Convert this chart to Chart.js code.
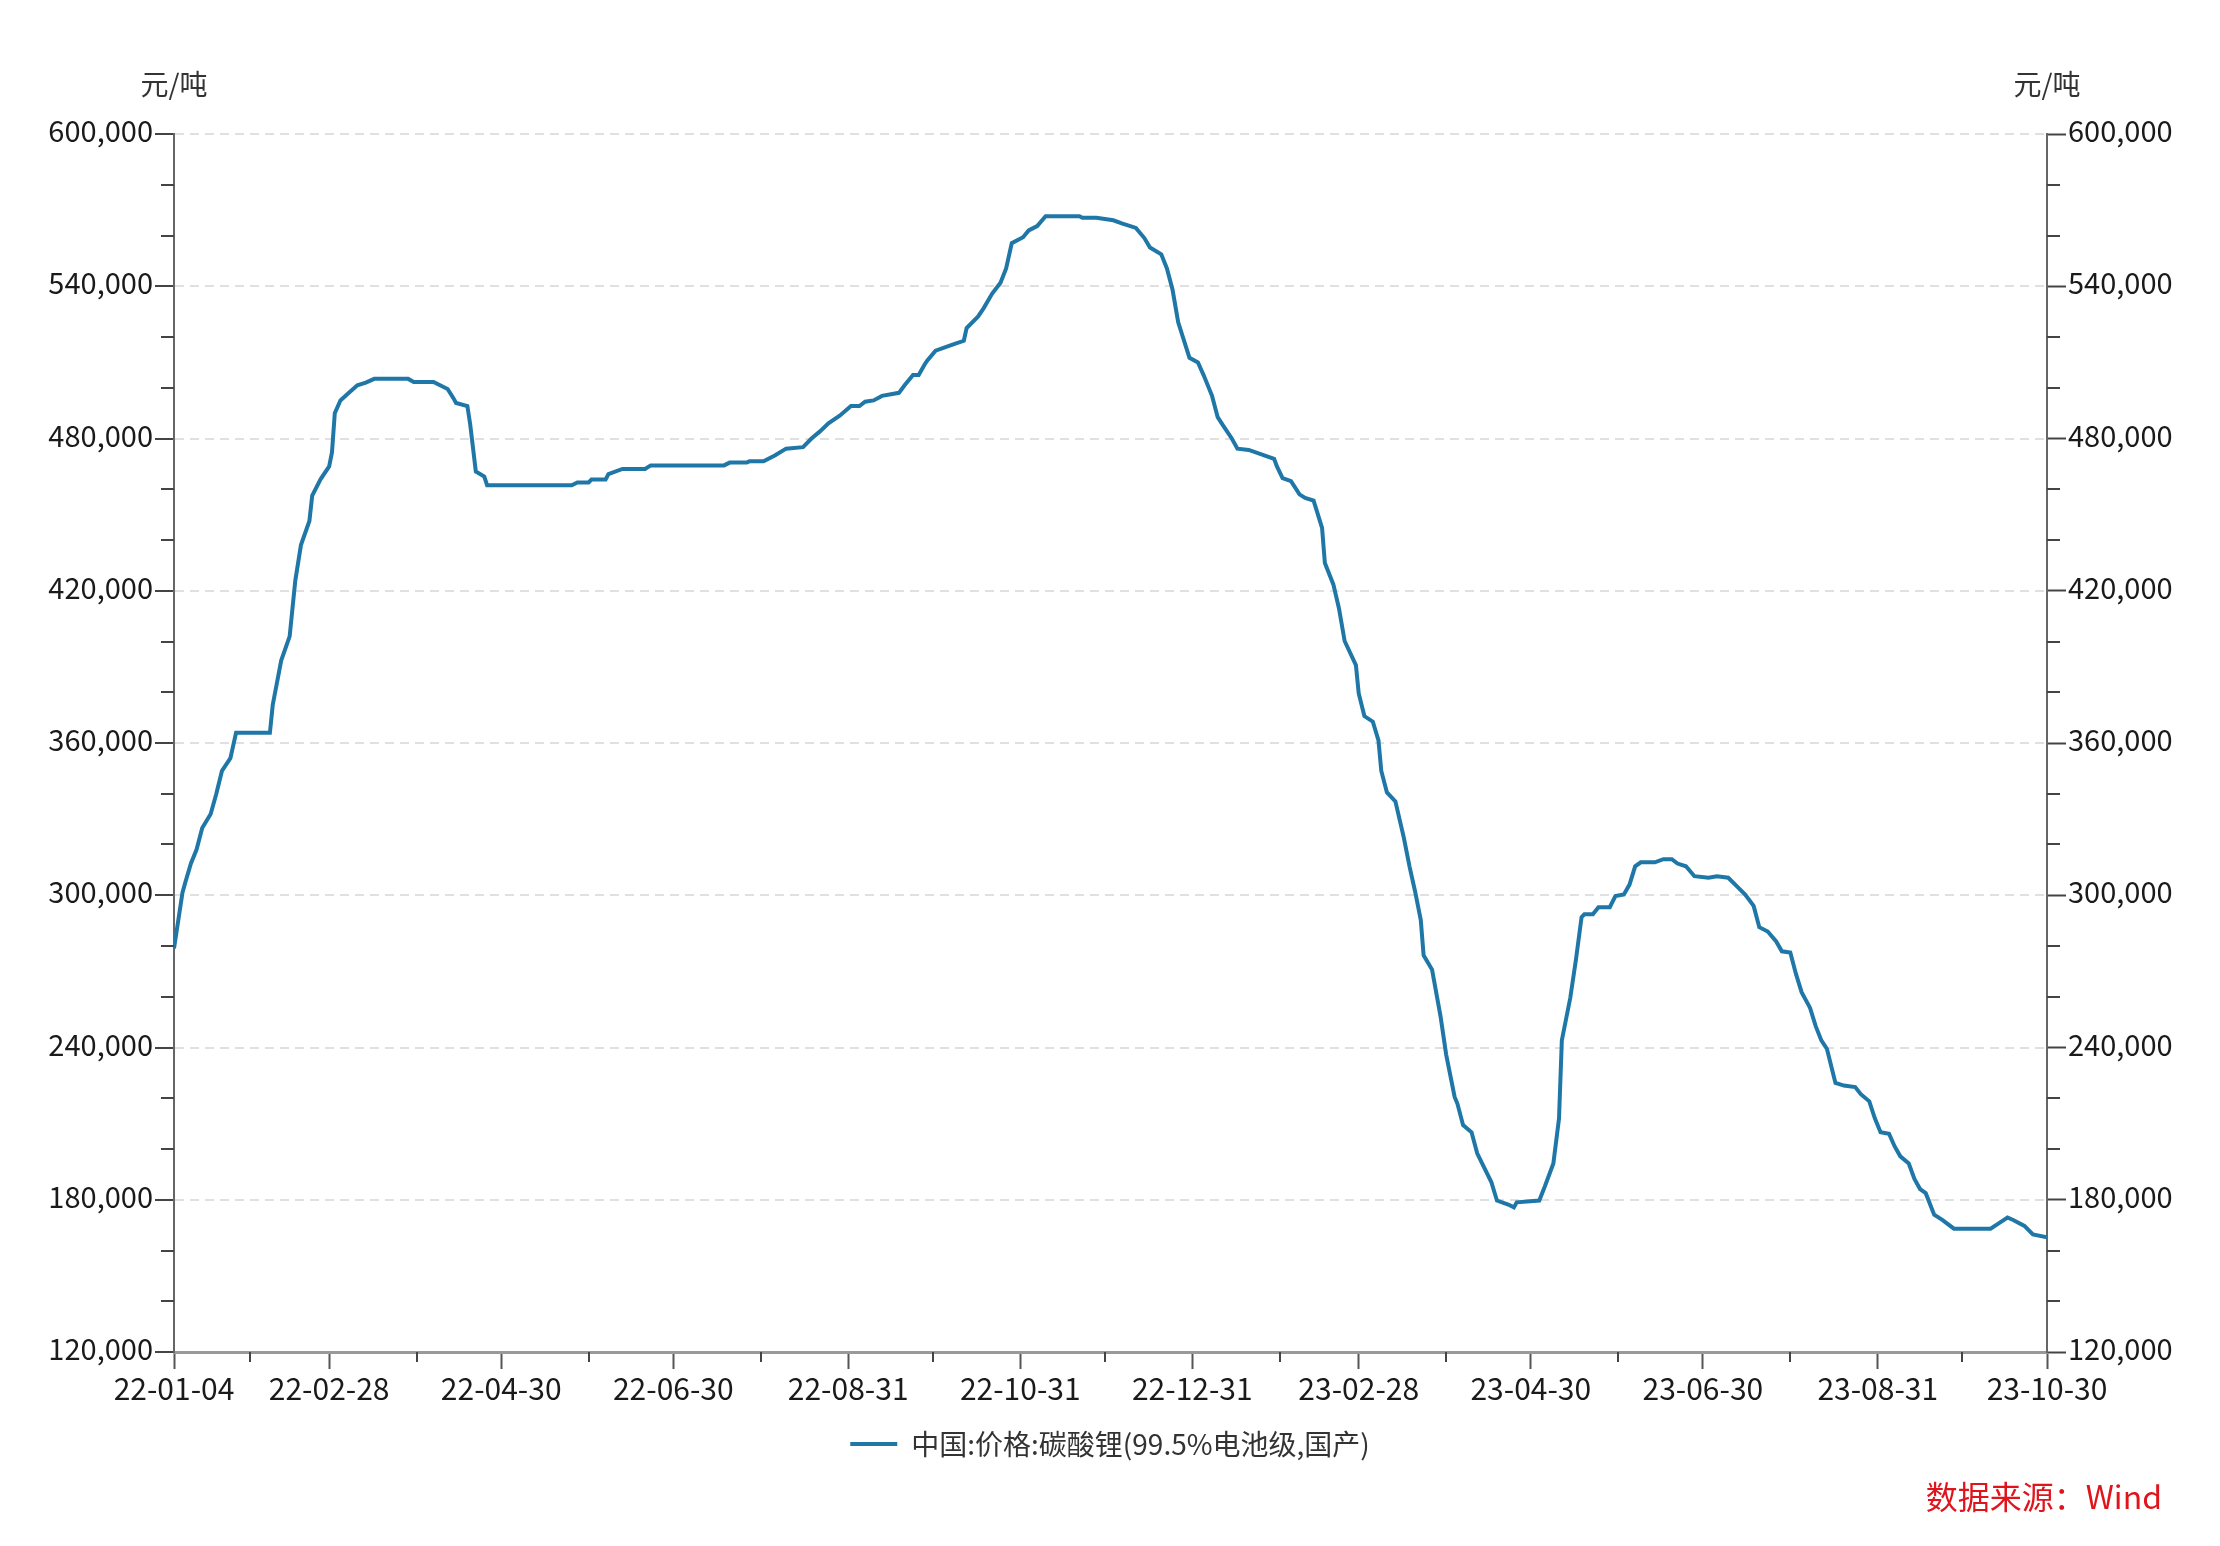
<!DOCTYPE html>
<html>
<head>
<meta charset="utf-8">
<script src="https://cdn.jsdelivr.net/npm/chart.js@4.4.1/dist/chart.umd.min.js"></script>
<style>
  html, body { margin: 0; padding: 0; background: #ffffff; }
  #wrap { position: relative; width: 2220px; height: 1546px; }
  #source { position: absolute; right: 58px; top: 1476px; font-family: "Noto Sans CJK SC", sans-serif; font-size: 32px; line-height: 1.2; color: #e0141c; }
</style>
</head>
<body>
<div id="wrap">
  <canvas id="c"></canvas>
  <div id="source">数据来源：Wind</div>
</div>
<script>
const seriesName = '中国:价格:碳酸锂(99.5%电池级,国产)';
const unitLabel = '元/吨';

const dates = [
'2022-01-04','2022-01-07','2022-01-08','2022-01-10','2022-01-12','2022-01-14','2022-01-17','2022-01-19','2022-01-21','2022-01-24','2022-01-26',
'2022-02-07','2022-02-08','2022-02-11','2022-02-14','2022-02-16','2022-02-18','2022-02-21','2022-02-22','2022-02-25','2022-02-28',
'2022-03-01','2022-03-02','2022-03-04','2022-03-07','2022-03-10','2022-03-13','2022-03-16','2022-03-28','2022-03-30',
'2022-04-06','2022-04-11','2022-04-13','2022-04-14','2022-04-18','2022-04-19','2022-04-21','2022-04-24','2022-04-25',
'2022-05-25','2022-05-27','2022-05-31',
'2022-06-01','2022-06-06','2022-06-07','2022-06-12','2022-06-20','2022-06-22',
'2022-07-18','2022-07-20','2022-07-26','2022-07-27',
'2022-08-01','2022-08-05','2022-08-09','2022-08-15','2022-08-18','2022-08-21','2022-08-24','2022-08-28',
'2022-09-01','2022-09-04','2022-09-06','2022-09-09','2022-09-12','2022-09-18','2022-09-20','2022-09-23','2022-09-25','2022-09-27','2022-09-28',
'2022-10-01','2022-10-08','2022-10-11','2022-10-12','2022-10-16','2022-10-18','2022-10-21','2022-10-24','2022-10-26','2022-10-28',
'2022-11-01','2022-11-03','2022-11-06','2022-11-09','2022-11-21','2022-11-22','2022-11-27','2022-11-30',
'2022-12-03','2022-12-06','2022-12-11','2022-12-14','2022-12-16','2022-12-20','2022-12-22','2022-12-24','2022-12-26','2022-12-30',
'2023-01-02','2023-01-04','2023-01-07','2023-01-09','2023-01-11','2023-01-14','2023-01-16','2023-01-20','2023-01-29','2023-01-30',
'2023-02-01','2023-02-04','2023-02-07','2023-02-09','2023-02-12','2023-02-15','2023-02-16','2023-02-19','2023-02-21','2023-02-23','2023-02-27','2023-02-28',
'2023-03-02','2023-03-05','2023-03-07','2023-03-08','2023-03-10','2023-03-13','2023-03-16','2023-03-18','2023-03-20','2023-03-22','2023-03-23','2023-03-26','2023-03-29','2023-03-31',
'2023-04-03','2023-04-04','2023-04-06','2023-04-09','2023-04-11','2023-04-13','2023-04-16','2023-04-18','2023-04-22','2023-04-24','2023-04-25',
'2023-05-03','2023-05-05','2023-05-08','2023-05-10','2023-05-11','2023-05-14','2023-05-16','2023-05-18','2023-05-19','2023-05-22','2023-05-24','2023-05-28','2023-05-30',
'2023-06-02','2023-06-04','2023-06-06','2023-06-08','2023-06-13','2023-06-16','2023-06-19','2023-06-21','2023-06-24','2023-06-27',
'2023-07-02','2023-07-05','2023-07-09','2023-07-12','2023-07-15','2023-07-18','2023-07-20','2023-07-23','2023-07-26','2023-07-28','2023-07-31',
'2023-08-02','2023-08-04','2023-08-07','2023-08-09','2023-08-11','2023-08-13','2023-08-16','2023-08-19','2023-08-23','2023-08-25','2023-08-28','2023-08-30',
'2023-09-01','2023-09-04','2023-09-06','2023-09-08','2023-09-11','2023-09-13','2023-09-15','2023-09-17','2023-09-20','2023-09-23','2023-09-27',
'2023-10-10','2023-10-13','2023-10-16','2023-10-18','2023-10-22','2023-10-25','2023-10-30'
];

const prices = [
279000,301000,305000,312500,318000,326500,332000,340000,349000,354000,364000,
364000,375000,392500,402000,424000,438000,447500,457500,464000,469000,
474500,490000,495000,498000,501000,502000,503500,503500,502300,
502300,499500,496000,494000,492800,485600,467000,465000,461600,
461600,462700,462700,
463800,463800,466000,468000,468000,469400,
469400,470500,470500,471000,
471000,473300,476000,476600,480000,482800,486000,489000,
492800,492800,494500,495000,496800,498000,501000,505000,505000,509000,510700,
514600,517400,518500,523500,528000,531300,537000,541400,547000,557000,
559300,562000,563700,567600,567600,567000,567000,566500,
566000,564800,563000,559000,555300,552600,547000,538600,525800,511800,
510000,505000,496800,488400,485000,480000,476000,475500,472000,469000,
464400,463200,458000,456600,455500,444800,430900,422500,413000,400200,390700,379500,
370600,368400,361000,349000,340500,337000,322600,311400,301400,290200,276300,270700,252300,237200,
220500,217800,209400,206600,198300,193700,187000,179700,178100,177000,179000,
179700,185300,194300,212000,242800,259600,274600,291400,292500,292500,295300,295300,299700,
300300,304200,311400,313000,313000,314200,314200,312500,311400,307500,
306900,307500,306900,303600,300300,295800,287400,285700,281800,277900,277400,
269000,261800,255600,248400,242800,239400,226000,225000,224400,221600,218800,212000,
206600,206000,201000,197100,194300,188200,184200,182600,174100,172000,168600,
168600,170800,173000,172000,169700,166300,165200
];

const xTickDates = ['2022-01-04','2022-02-28','2022-04-30','2022-06-30','2022-08-31','2022-10-31','2022-12-31','2023-02-28','2023-04-30','2023-06-30','2023-08-31','2023-10-30'];
const xMinorTickDates = ['2022-01-31','2022-03-31','2022-05-31','2022-07-31','2022-09-30','2022-11-30','2023-01-31','2023-03-31','2023-05-31','2023-07-31','2023-09-30'];
const yMin = 120000, yMax = 600000, yStep = 60000, yMinorStep = 20000;

const DAY = 86400000;
function dayOf(s) { const p = s.split('-').map(Number); return Date.UTC(p[0], p[1]-1, p[2]) / DAY; }
function fmtDay(d) {
  const dt = new Date(Math.round(d) * DAY);
  const yy = String(dt.getUTCFullYear()).slice(2);
  const mm = String(dt.getUTCMonth()+1).padStart(2,'0');
  const dd = String(dt.getUTCDate()).padStart(2,'0');
  return yy + '-' + mm + '-' + dd;
}
const points = dates.map((d, i) => ({ x: dayOf(d), y: prices[i] }));

const FONT = '"Noto Sans CJK SC", "Noto Sans", sans-serif';
Chart.defaults.font.family = FONT;
Chart.defaults.font.size = 28;
Chart.defaults.color = '#222';

const lineColor = '#1f77a8';

const extras = {
  id: 'extras',
  afterDraw(chart) {
    const ctx = chart.ctx;
    const xs = chart.scales.x, yl = chart.scales.y, yr = chart.scales.y2;
    ctx.save();
    ctx.strokeStyle = '#444';
    ctx.lineWidth = 2;
    for (let v = yMin; v <= yMax; v += yMinorStep) {
      if (v % yStep === 0) continue;
      const py = Math.round(yl.getPixelForValue(v));
      ctx.beginPath(); ctx.moveTo(yl.right - 13, py); ctx.lineTo(yl.right, py); ctx.stroke();
      ctx.beginPath(); ctx.moveTo(yr.left, py); ctx.lineTo(yr.left + 13, py); ctx.stroke();
    }
    xMinorTickDates.forEach(d => {
      const px = Math.round(xs.getPixelForValue(dayOf(d)));
      ctx.beginPath(); ctx.moveTo(px, xs.top); ctx.lineTo(px, xs.top + 10); ctx.stroke();
    });
    ctx.fillStyle = '#333';
    ctx.font = '28px ' + FONT;
    ctx.textAlign = 'center';
    ctx.textBaseline = 'middle';
    const ty = chart.chartArea.top - 50;
    ctx.fillText(unitLabel, yl.right, ty);
    ctx.fillText(unitLabel, yr.left, ty);
    ctx.restore();
  }
};

new Chart(document.getElementById('c'), {
  type: 'line',
  data: {
    datasets: [{
      label: seriesName,
      data: points,
      borderColor: lineColor,
      backgroundColor: lineColor,
      borderWidth: 4,
      pointRadius: 0,
      tension: 0,
      yAxisID: 'y'
    }]
  },
  options: {
    responsive: true,
    maintainAspectRatio: false,
    animation: false,
    devicePixelRatio: 1,
    layout: { padding: { top: 134, bottom: 78, left: 0, right: 0 } },
    plugins: {
      legend: {
        position: 'bottom',
        labels: {
          boxWidth: 47,
          boxHeight: 4,
          padding: 10,
          color: '#333',
          font: { size: 28, family: FONT },
          generateLabels(chart) {
            return Chart.defaults.plugins.legend.labels.generateLabels(chart).map(it => Object.assign(it, { lineWidth: 0 }));
          }
        }
      },
      tooltip: { enabled: false }
    },
    scales: {
      x: {
        type: 'linear',
        min: dayOf(xTickDates[0]),
        max: dayOf(xTickDates[xTickDates.length - 1]),
        afterBuildTicks(scale) { scale.ticks = xTickDates.map(d => ({ value: dayOf(d) })); },
        afterFit(scale) { scale.height = 68; },
        ticks: {
          autoSkip: false, maxRotation: 0, minRotation: 0, padding: 2,
          color: '#1a1a1a', font: { size: 30 },
          callback: (v) => fmtDay(v)
        },
        grid: { drawOnChartArea: false, drawTicks: true, tickLength: 17, tickColor: '#555', tickWidth: 2 },
        border: { display: true, color: '#999', width: 3 }
      },
      y: {
        type: 'linear', position: 'left', min: yMin, max: yMax,
        afterFit(scale) { scale.width = 174; },
        ticks: {
          stepSize: yStep, autoSkip: false, padding: 2, labelOffset: -3,
          color: '#1a1a1a', font: { size: 29 },
          callback: (v) => Number(v).toLocaleString('en-US')
        },
        grid: {
          drawOnChartArea: true, drawTicks: true, tickLength: 19, tickWidth: 2, tickColor: '#444',
          lineWidth: 2,
          color: (c) => (c.tick && c.tick.value === yMin) ? 'rgba(0,0,0,0)' : '#e0e0e0'
        },
        border: { display: true, color: '#666', width: 2, dash: [9, 6] }
      },
      y2: {
        type: 'linear', position: 'right', min: yMin, max: yMax,
        afterFit(scale) { scale.width = 173; },
        ticks: {
          stepSize: yStep, autoSkip: false, padding: 2, labelOffset: -3,
          color: '#1a1a1a', font: { size: 29 },
          callback: (v) => Number(v).toLocaleString('en-US')
        },
        grid: { drawOnChartArea: false, drawTicks: true, tickLength: 19, tickWidth: 2, tickColor: '#444' },
        border: { display: true, color: '#666', width: 2 }
      }
    }
  },
  plugins: [extras]
});
</script>
</body>
</html>
